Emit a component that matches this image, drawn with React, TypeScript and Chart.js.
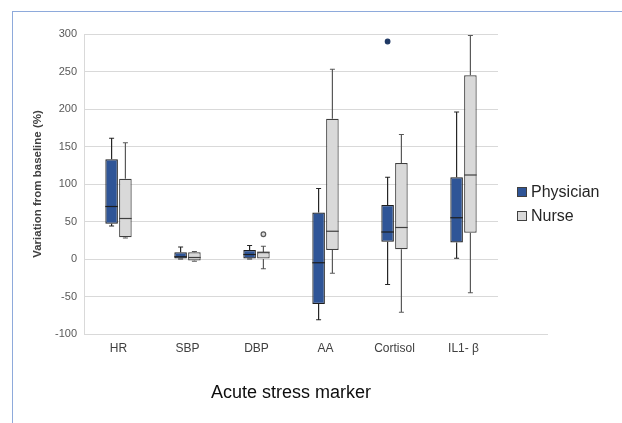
import React, { useEffect, useRef } from 'react';
import { Chart, registerables } from 'chart.js';

Chart.register(...registerables);

const categories = ['HR', 'SBP', 'DBP', 'AA', 'Cortisol', 'IL1- β'];
const seriesLabels = ['Physician', 'Nurse'];

const physicianMin = [44, 0, 0, -81, -34, 1];
const physicianQ1 = [47, 0, 0, -60, 23, 22];
const physicianMedian = [70, 3, 6, -5, 36, 55];
const physicianQ3 = [133, 9, 12, 62, 72, 109];
const physicianMax = [161, 16, 18, 94, 109, 196];
const physicianOutliers = [[], [], [], [], [290], []];

const nurseMin = [28, -3, -13, -19, -71, -45];
const nurseQ1 = [29, -2, 0, 12, 13, 35];
const nurseMedian = [54, 2, 9, 37, 42, 112];
const nurseQ3 = [107, 9, 9, 187, 128, 245];
const nurseMax = [155, 10, 17, 253, 166, 298];
const nurseOutliers = [[], [], [33], [], [], []];

const yMin = -100;
const yMax = 300;
const yStep = 50;

const FONT = "'Liberation Sans', Arial, sans-serif";

const stats = [
  { min: physicianMin, q1: physicianQ1, med: physicianMedian, q3: physicianQ3, max: physicianMax, out: physicianOutliers,
    fill: '#2F5597', border: '#1E1E1E', whisker: '#262626', outFill: '#1F3864', outStroke: '#1F3864' },
  { min: nurseMin, q1: nurseQ1, med: nurseMedian, q3: nurseQ3, max: nurseMax, out: nurseOutliers,
    fill: '#D9D9D9', border: '#3F3F3F', whisker: '#595959', outFill: '#D9D9D9', outStroke: '#595959' },
];

const boxPlugin = {
  id: 'boxExtras',
  afterDatasetsDraw(chart: any) {
    const ctx = chart.ctx;
    const y = chart.scales.y;
    stats.forEach((s, d) => {
      const meta = chart.getDatasetMeta(d);
      meta.data.forEach((bar: any, i: number) => {
        const x = bar.x;
        const w = bar.width;
        const cap = 2.5;
        ctx.save();
        ctx.strokeStyle = s.whisker;
        ctx.lineWidth = 1.2;
        const yq3 = y.getPixelForValue(s.q3[i]);
        const yq1 = y.getPixelForValue(s.q1[i]);
        const ymax = y.getPixelForValue(s.max[i]);
        const ymin = y.getPixelForValue(s.min[i]);
        ctx.beginPath();
        ctx.moveTo(x, yq3); ctx.lineTo(x, ymax);
        ctx.moveTo(x - cap, ymax); ctx.lineTo(x + cap, ymax);
        ctx.moveTo(x, yq1); ctx.lineTo(x, ymin);
        ctx.moveTo(x - cap, ymin); ctx.lineTo(x + cap, ymin);
        ctx.stroke();
        // median
        const ym = y.getPixelForValue(s.med[i]);
        ctx.strokeStyle = s.border;
        ctx.lineWidth = 1.2;
        ctx.beginPath();
        ctx.moveTo(x - w / 2, ym); ctx.lineTo(x + w / 2, ym);
        ctx.stroke();
        // outliers
        s.out[i].forEach((v: number) => {
          const yo = y.getPixelForValue(v);
          ctx.beginPath();
          ctx.arc(x, yo, 2.3, 0, Math.PI * 2);
          ctx.fillStyle = s.outFill;
          ctx.fill();
          ctx.strokeStyle = s.outStroke;
          ctx.lineWidth = 1.2;
          ctx.stroke();
        });
        ctx.restore();
      });
    });
  },
  afterDraw(chart: any) {
    const ctx = chart.ctx;
    const area = chart.chartArea;
    ctx.save();
    // extended axis line
    ctx.strokeStyle = '#D9D9D9';
    ctx.lineWidth = 1;
    ctx.beginPath();
    ctx.moveTo(area.right, Math.round(area.bottom) + 0.5);
    ctx.lineTo(548, Math.round(area.bottom) + 0.5);
    ctx.stroke();
    // legend
    const items = [
      { label: seriesLabels[0], fill: stats[0].fill, border: '#404040', cy: 192 },
      { label: seriesLabels[1], fill: stats[1].fill, border: '#404040', cy: 216 },
    ];
    items.forEach((it) => {
      ctx.fillStyle = it.fill;
      ctx.fillRect(517, it.cy - 5, 10, 10);
      ctx.strokeStyle = it.border;
      ctx.lineWidth = 1;
      ctx.strokeRect(517.5, it.cy - 4.5, 9, 9);
      ctx.fillStyle = '#262626';
      ctx.font = `16px ${FONT}`;
      ctx.textBaseline = 'middle';
      ctx.textAlign = 'left';
      ctx.fillText(it.label, 531, it.cy + 1);
    });
    ctx.restore();
  },
};

export default function App() {
  const canvasRef = useRef<HTMLCanvasElement | null>(null);

  useEffect(() => {
    document.body.style.overflow = 'hidden';
    const canvas = canvasRef.current;
    if (!canvas) return;
    const chart = new Chart(canvas, {
      type: 'bar',
      data: {
        labels: categories,
        datasets: stats.map((s, d) => ({
          label: seriesLabels[d],
          data: categories.map((_, i) => [s.q1[i], s.q3[i]] as any),
          backgroundColor: s.fill,
          borderColor: s.border,
          borderWidth: 1.2,
          borderSkipped: false,
          categoryPercentage: 0.4,
          barPercentage: 0.91,
        })),
      },
      options: {
        responsive: false,
        animation: false,
        events: [],
        layout: { padding: { top: 34, right: 124, left: 0, bottom: 0 } },
        plugins: {
          legend: { display: false },
          tooltip: { enabled: false },
        },
        scales: {
          x: {
            grid: { display: false, drawTicks: false },
            border: { display: true, color: '#D9D9D9', width: 1 },
            ticks: { color: '#404040', font: { family: FONT, size: 12 }, padding: 7 },
            title: {
              display: true,
              text: 'Acute stress marker',
              color: '#0D0D0D',
              font: { family: FONT, size: 18 },
              padding: { top: 0, bottom: 19 },
            },
            afterFit(scale: any) { scale.height = 89; },
          },
          y: {
            min: yMin,
            max: yMax,
            ticks: { stepSize: yStep, color: '#595959', font: { family: FONT, size: 11 }, padding: 7 },
            grid: { color: '#D9D9D9', drawTicks: false, lineWidth: 1 },
            border: { display: true, color: '#D9D9D9', width: 1 },
            title: {
              display: true,
              text: 'Variation from baseline (%)',
              color: '#404040',
              font: { family: FONT, size: 11.5, weight: 'bold' },
              padding: { top: 31, bottom: 0 },
            },
            afterFit(scale: any) { scale.width = 84; },
          },
        },
      },
      plugins: [boxPlugin],
    });
    return () => chart.destroy();
  }, []);

  return (
    <div style={{ position: 'absolute', left: 0, top: 0, width: 622, height: 423, background: '#fff', overflow: 'hidden' }}>
      <div
        style={{
          position: 'absolute',
          left: 12,
          top: 11,
          width: 610,
          height: 412,
          borderLeft: '1px solid #8EAADB',
          borderTop: '1px solid #8EAADB',
          boxSizing: 'border-box',
        }}
      />
      <canvas ref={canvasRef} width={622} height={423} style={{ position: 'absolute', left: 0, top: 0 }} />
    </div>
  );
}
